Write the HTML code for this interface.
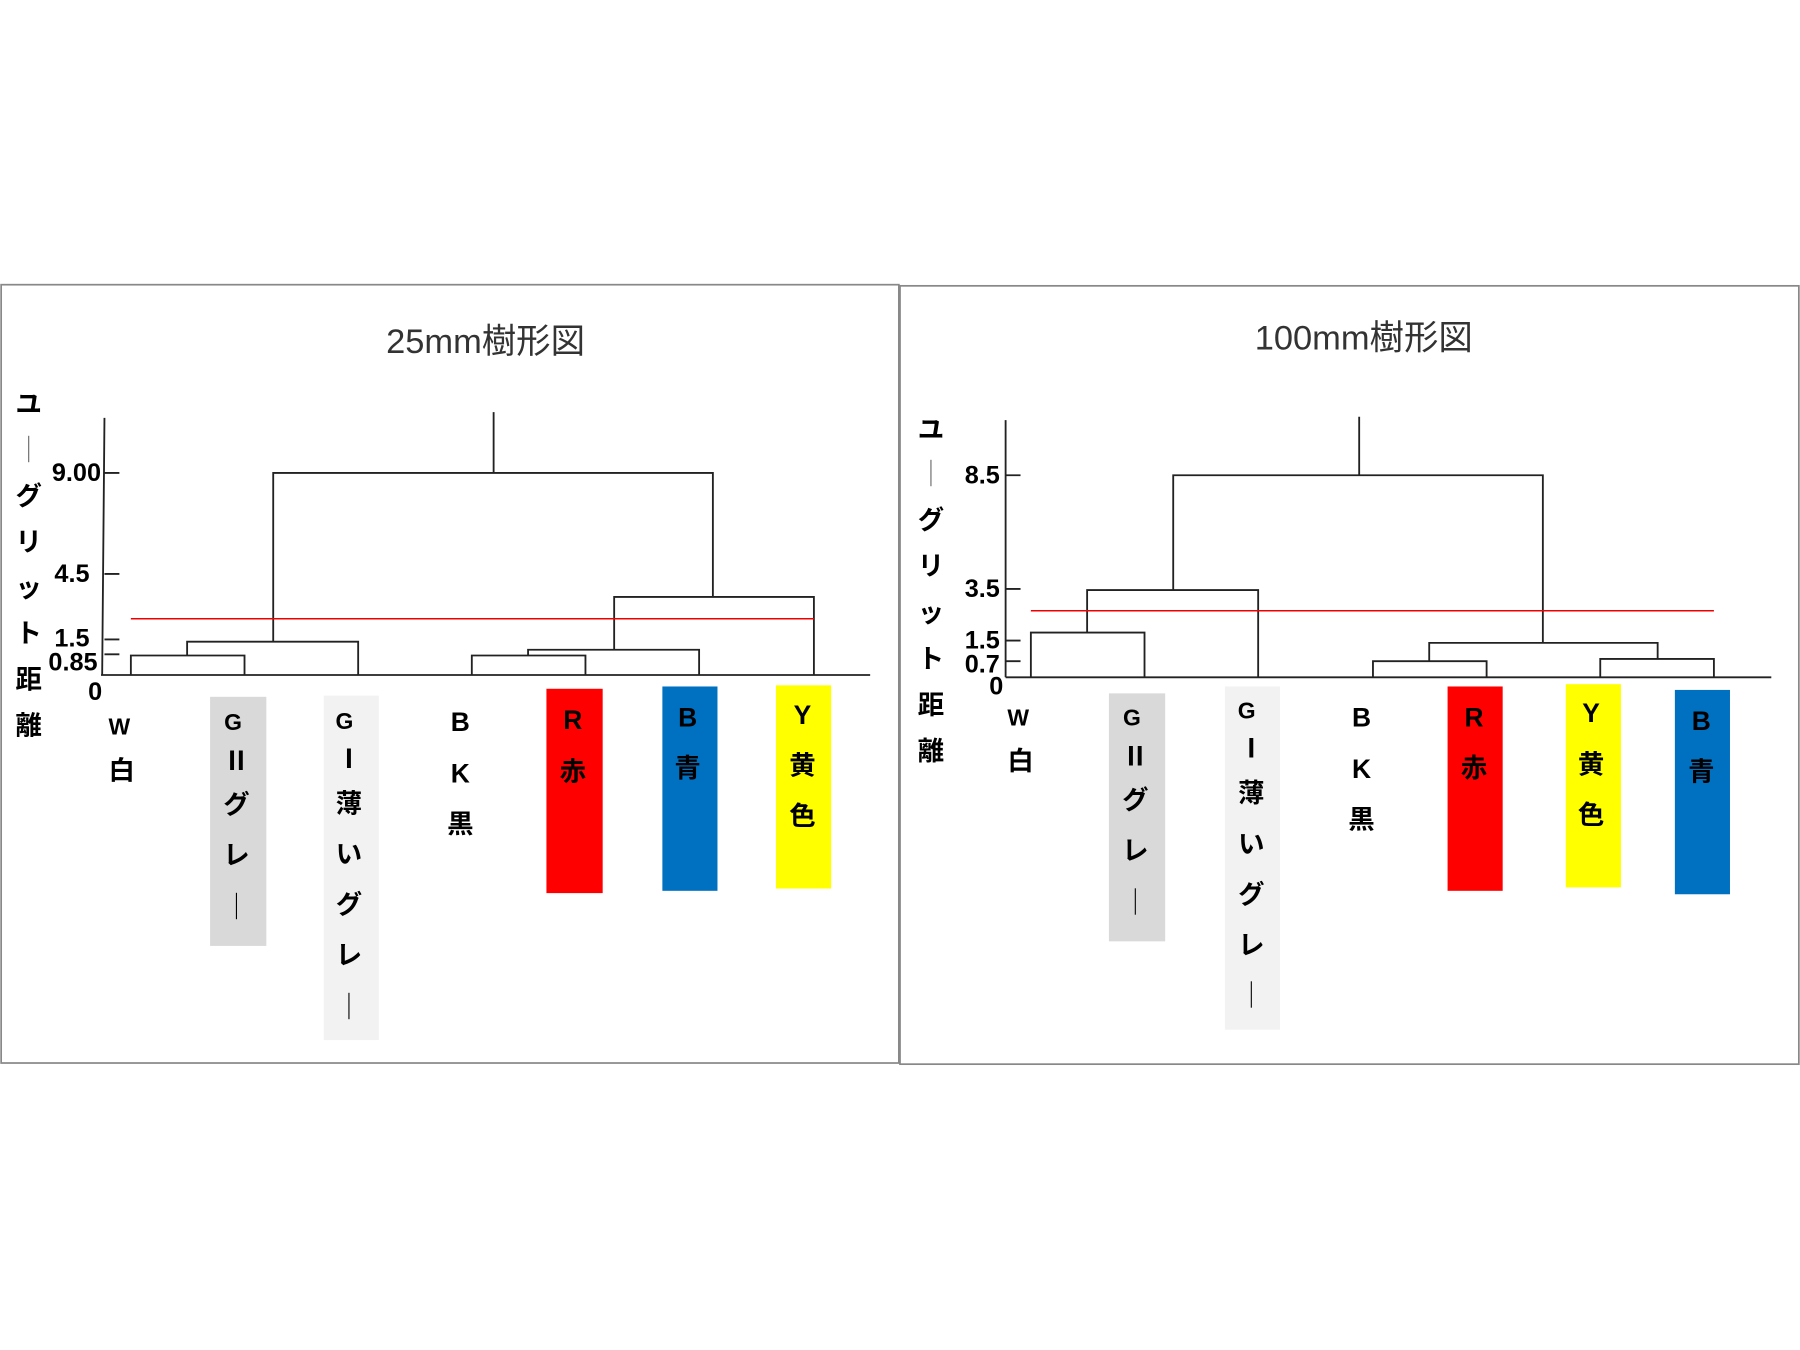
<!DOCTYPE html>
<html><head><meta charset="utf-8"><style>
html,body{margin:0;padding:0;background:#fff;width:1800px;height:1350px;overflow:hidden}
svg{display:block}
text{font-family:"Liberation Sans","Noto Sans CJK JP",sans-serif;}
.t{font-weight:bold;font-size:23px;text-anchor:middle;dominant-baseline:central}
.n{font-weight:bold;font-size:22px;text-anchor:end;dominant-baseline:central}
.ttl{font-size:30px;text-anchor:middle;dominant-baseline:central;fill:#333}
.d{fill:none;stroke:#222;stroke-width:1.6}
</style></head><body>
<svg width="1800" height="1350" viewBox="0 0 1568 1176" xmlns="http://www.w3.org/2000/svg">
<rect x="1" y="248" width="782" height="678" fill="#fff" stroke="#888" stroke-width="1.5"/>
<rect x="784" y="249" width="783" height="678" fill="#fff" stroke="#888" stroke-width="1.5"/>

<!-- LEFT -->
<text class="ttl" x="423" y="298">25mm樹形図</text>
<g class="t">
<text x="25" y="352">ユ</text><text x="25" y="392" style="font-weight:normal;fill:#666">｜</text><text x="25" y="432">グ</text><text x="25" y="472">リ</text><text x="25" y="512">ッ</text><text x="25" y="552">ト</text><text x="25" y="592">距</text><text x="25" y="632">離</text>
</g>
<path class="d" d="M91 364 L89 588 M88 588 H758 M91 412 H104 M91 500 H104 M91 557 H104 M91 570 H104"/>
<text class="n" x="88" y="412">9.00</text><text class="n" x="78" y="500">4.5</text><text class="n" x="78" y="556">1.5</text><text class="n" x="85" y="577">0.85</text><text class="n" x="89" y="603">0</text>
<path class="d" d="M114 588 V571 H213 V588 M163 571 V559 H312 V588 M411 588 V571 H510 V588 M460 571 V566 H609 V588 M535 566 V520 H709 V588 M238 559 V412 H621 V520 M430 412 V359"/>
<line x1="114" y1="539" x2="709" y2="539" stroke="#e00" stroke-width="1.3"/>
<rect x="183" y="607" width="49" height="217" fill="#d9d9d9"/>
<rect x="282" y="606" width="48" height="300" fill="#f2f2f2"/>
<rect x="476" y="600" width="49" height="178" fill="#ff0000"/>
<rect x="577" y="598" width="48" height="178" fill="#0070c0"/>
<rect x="676" y="597" width="48" height="177" fill="#ffff00"/>
<g class="t">
<text x="104" y="633" style="font-size:20px">W</text><text x="106" y="671">白</text>
<text x="203" y="629" style="font-size:20px">G</text><text x="206" y="663">Ⅱ</text><text x="206" y="701">グ</text><text x="206" y="745">レ</text><text x="206" y="790" style="font-weight:normal">｜</text>
<text x="300" y="628" style="font-size:20px">G</text><text x="304" y="661">Ⅰ</text><text x="304" y="700">薄</text><text x="304" y="744">い</text><text x="304" y="788">グ</text><text x="304" y="832">レ</text><text x="304" y="877" style="font-weight:normal">｜</text>
<text x="401" y="629">B</text><text x="401" y="674">K</text><text x="401" y="718">黒</text>
<text x="499" y="627">R</text><text x="499" y="672">赤</text>
<text x="599" y="625">B</text><text x="599" y="669">青</text>
<text x="699" y="623">Y</text><text x="699" y="667">黄</text><text x="699" y="711">色</text>
</g>

<!-- RIGHT -->
<text class="ttl" x="1188" y="295">100mm樹形図</text>
<g class="t">
<text x="811" y="374">ユ</text><text x="811" y="413" style="font-weight:normal;fill:#666">｜</text><text x="811" y="453">グ</text><text x="811" y="493">リ</text><text x="811" y="534">ッ</text><text x="811" y="574">ト</text><text x="811" y="614">距</text><text x="811" y="654">離</text>
</g>
<path class="d" d="M876 366 V590 M876 590 H1543 M876 414 H889 M876 513 H889 M876 558 H889 M876 576 H889"/>
<text class="n" x="871" y="414">8.5</text><text class="n" x="871" y="513">3.5</text><text class="n" x="871" y="558">1.5</text><text class="n" x="871" y="579">0.7</text><text class="n" x="874" y="598">0</text>
<path class="d" d="M898 590 V551 H997 V590 M947 551 V514 H1096 V590 M1196 590 V576 H1295 V590 M1394 590 V574 H1493 V590 M1245 576 V560 H1444 V574 M1022 514 V414 H1344 V560 M1184 414 V363"/>
<line x1="898" y1="532" x2="1493" y2="532" stroke="#e00" stroke-width="1.3"/>
<rect x="966" y="604" width="49" height="216" fill="#d9d9d9"/>
<rect x="1067" y="598" width="48" height="299" fill="#f2f2f2"/>
<rect x="1261" y="598" width="48" height="178" fill="#ff0000"/>
<rect x="1364" y="596" width="48" height="177" fill="#ffff00"/>
<rect x="1459" y="601" width="48" height="178" fill="#0070c0"/>
<g class="t">
<text x="887" y="625" style="font-size:20px">W</text><text x="889" y="663">白</text>
<text x="986" y="625" style="font-size:20px">G</text><text x="989" y="659">Ⅱ</text><text x="989" y="697">グ</text><text x="989" y="741">レ</text><text x="989" y="786" style="font-weight:normal">｜</text>
<text x="1086" y="619" style="font-size:20px">G</text><text x="1090" y="652">Ⅰ</text><text x="1090" y="691">薄</text><text x="1090" y="735">い</text><text x="1090" y="779">グ</text><text x="1090" y="823">レ</text><text x="1090" y="867" style="font-weight:normal">｜</text>
<text x="1186" y="625">B</text><text x="1186" y="670">K</text><text x="1186" y="714">黒</text>
<text x="1284" y="625">R</text><text x="1284" y="669">赤</text>
<text x="1386" y="621">Y</text><text x="1386" y="666">黄</text><text x="1386" y="710">色</text>
<text x="1482" y="628">B</text><text x="1482" y="672">青</text>
</g>
</svg>
</body></html>
